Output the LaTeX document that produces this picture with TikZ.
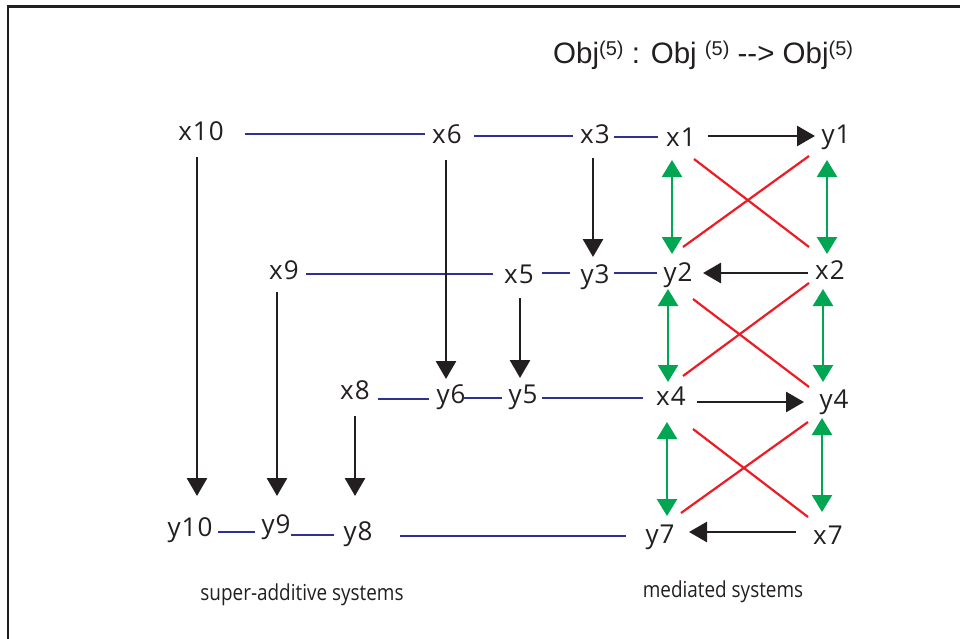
\documentclass[tikz,border=0pt]{standalone}
\usepackage{fontspec}
\setmainfont{Liberation Sans}
\newfontfamily\labfont[LetterSpace=4]{Open Sans}
\newfontfamily\capfont[FakeStretch=0.86]{Open Sans}
\usetikzlibrary{arrows.meta,calc}
\definecolor{ink}{HTML}{231F20}
\definecolor{bl}{HTML}{2E3192}
\definecolor{rd}{HTML}{ED1C24}
\definecolor{gr}{HTML}{00A651}
\newcommand{\supf}[1]{\raisebox{8.5pt}{\fontsize{20}{20}\selectfont #1}}
\tikzset{
 lab/.style={inner sep=0pt, text height=18.5pt, text depth=0pt, font=\labfont\fontsize{26}{26}\selectfont, text=ink},
 blueline/.style={draw=bl, line width=2.8pt},
 blackarrow/.style={draw=ink, line width=2.8pt, -{Triangle[length=18pt,width=20pt]}},
 greenarrow/.style={draw=gr, line width=2.4pt, {Triangle[length=17pt,width=20pt]}-{Triangle[length=17pt,width=20pt]}},
 redline/.style={draw=rd, line width=2.2pt},
 frameline/.style={draw=ink, line width=2.6pt},
 caption/.style={inner sep=0pt, anchor=base, font=\capfont\fontsize{22}{22}\selectfont, text=ink},
}
\begin{document}
\begin{tikzpicture}[x=1pt,y=-1pt]
\useasboundingbox (0,0) rectangle (960,639);
\draw[frameline] (8,639) -- (8,6.5) -- (960,6.5);

\node[anchor=base west, inner sep=0pt, font=\fontsize{29.5}{29.5}\selectfont, text=ink] (title) at (553,64) {Obj\supf{(5)} : Obj \supf{(5)} -{}-{}> Obj\supf{(5)}};

% nodes
\node[lab] (x10) at (201,131) {x10};
\node[lab] (x6) at (447,134) {x6};
\node[lab] (x3) at (595,134) {x3};
\node[lab] (x1) at (681,137) {x1};
\node[lab] (y1) at (836,134) {y1};
\node[lab] (x9) at (284,270) {x9};
\node[lab] (x5) at (519,274) {x5};
\node[lab] (y3) at (595,274) {y3};
\node[lab] (y2) at (678,272) {y2};
\node[lab] (x2) at (830,270) {x2};
\node[lab] (x8) at (355,390) {x8};
\node[lab] (y6) at (451,394) {y6};
\node[lab] (y5) at (523,394) {y5};
\node[lab] (x4) at (671,396) {x4};
\node[lab] (y4) at (834,399) {y4};
\node[lab] (y10) at (190,527) {y10};
\node[lab] (y9) at (276,524) {y9};
\node[lab] (y8) at (358,531) {y8};
\node[lab] (y7) at (660,534) {y7};
\node[lab] (x7) at (828,535) {x7};

\node[caption] (capL) at (302,600.7) {super-additive systems};
\node[caption] (capR) at (723,597) {mediated systems};

% blue lines
\draw[blueline] ($(x10)+(44,3)$) -- ($(x6)+(-22,0)$);
\draw[blueline] ($(x6)+(27,2)$) -- ($(x3)+(-22,2)$);
\draw[blueline] ($(x3)+(19,3)$) -- ($(x1)+(-23,0)$);
\draw[blueline] ($(x9)+(22,4)$) -- ($(x5)+(-26,0)$);
\draw[blueline] ($(x5)+(23,-1)$) -- ($(y3)+(-25,-1)$);
\draw[blueline] ($(y3)+(19,-1)$) -- ($(y2)+(-21,1)$);
\draw[blueline] ($(x8)+(23,9)$) -- ($(y6)+(-22,5)$);
\draw[blueline] ($(y6)+(12,4)$) -- ($(y5)+(-21,4)$);
\draw[blueline] ($(y5)+(19,4)$) -- ($(x4)+(-28,2)$);
\draw[blueline] ($(y10)+(28,5)$) -- ($(y9)+(-21,8)$);
\draw[blueline] ($(y9)+(15,11)$) -- ($(y8)+(-24,4)$);
\draw[blueline] ($(y8)+(42,5)$) -- ($(y7)+(-34,2)$);

% black horizontal arrows
\draw[blackarrow] ($(x1)+(27,-1)$) -- ($(y1)+(-21,2)$);
\draw[blackarrow] ($(x2)+(-22,3)$) -- ($(y2)+(25,1)$);
\draw[blackarrow] ($(x4)+(26,6)$) -- ($(y4)+(-30,3)$);
\draw[blackarrow] ($(x7)+(-32,-3)$) -- ($(y7)+(29,-2)$);

% black vertical arrows
\draw[blackarrow] ($(x10)+(-4,26)$) -- ($(y10)+(7,-31)$);
\draw[blackarrow] ($(x6)+(-1,26)$) -- ($(y6)+(-5,-15)$);
\draw[blackarrow] ($(x3)+(-2,24)$) -- ($(y3)+(-2,-17)$);
\draw[blackarrow] ($(x9)+(-7,22)$) -- ($(y9)+(1,-28)$);
\draw[blackarrow] ($(x5)+(1,24)$) -- ($(y5)+(-3,-16)$);
\draw[blackarrow] ($(x8)+(0,26)$) -- ($(y8)+(-3,-35)$);

% green double arrows
\draw[greenarrow] ($(x1)+(-9,23)$) -- ($(y2)+(-6,-18)$);
\draw[greenarrow] ($(y1)+(-9,26)$) -- ($(x2)+(-3,-16)$);
\draw[greenarrow] ($(y2)+(-10,17)$) -- ($(x4)+(-3,-14)$);
\draw[greenarrow] ($(x2)+(-7,19)$) -- ($(y4)+(-11,-17)$);
\draw[greenarrow] ($(x4)+(-4,26)$) -- ($(y7)+(7,-18)$);
\draw[greenarrow] ($(y4)+(-12,19)$) -- ($(x7)+(-6,-23)$);

% red crossing lines
\draw[redline] ($(x1)+(13,22)$) -- ($(x2)+(-21,-23)$);
\draw[redline] ($(y1)+(-27,22)$) -- ($(y2)+(5,-25)$);
\draw[redline] ($(y2)+(15,27)$) -- ($(y4)+(-25,-12)$);
\draw[redline] ($(x2)+(-21,13)$) -- ($(x4)+(12,-20)$);
\draw[redline] ($(x4)+(22,33)$) -- ($(x7)+(-20,-18)$);
\draw[redline] ($(y4)+(-26,23)$) -- ($(y7)+(21,-21)$);
\end{tikzpicture}
\end{document}
